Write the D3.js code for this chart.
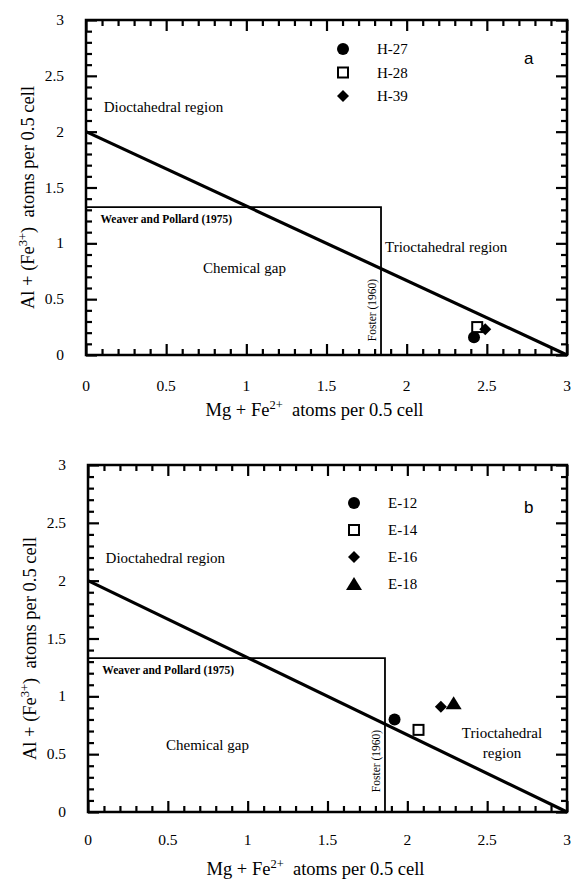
<!DOCTYPE html>
<html>
<head>
<meta charset="utf-8">
<script src="https://cdn.jsdelivr.net/npm/d3@7"></script>
</head>
<body style="margin:0">
<svg id="vis_canvas" width="572" height="880"></svg>
<script>
// tick values for both panels
var major_ticks = [0, 0.5, 1, 1.5, 2, 2.5, 3];
var minor_ticks = [0.1, 0.2, 0.3, 0.4, 0.6, 0.7, 0.8, 0.9, 1.1, 1.2, 1.3, 1.4,
    1.6, 1.7, 1.8, 1.9, 2.1, 2.2, 2.3, 2.4, 2.6, 2.7, 2.8, 2.9];
var tick_labels = ["0", "0.5", "1", "1.5", "2", "2.5", "3"];

// boundary line from dioctahedral to trioctahedral
var boundary_line = [[0, 2], [3, 0]];
// chemical gap box (Weaver and Pollard 1975 / Foster 1960)
var gap_box_a = [[0, 1.325], [1.84, 1.325], [1.84, 0]];
var gap_box_b = [[0, 1.33], [1.86, 1.33], [1.86, 0]];

// samples panel a
var samples_a = ["H-27", "H-28", "H-39"];
var symbols_a = ["circle", "square", "diamond"];
var mg_a = [2.42, 2.44, 2.49];
var al_a = [0.16, 0.25, 0.23];

// samples panel b
var samples_b = ["E-12", "E-14", "E-16", "E-18"];
var symbols_b = ["circle", "square", "diamond", "triangle"];
var mg_b = [1.92, 2.07, 2.21, 2.29];
var al_b = [0.80, 0.71, 0.91, 0.94];

var SERIF = "Liberation Serif";
var INK = "#000";

function drawPanel(svg, opt) {
    var x = d3.scaleLinear().domain([0, 3]).range([opt.left, opt.right]);
    var y = d3.scaleLinear().domain([0, 3]).range([opt.bottom, opt.top]);
    var g = svg.append("g");

    // inward ticks on all four sides, from d3 axes
    function ticks(axis, tx, ty, vals, len) {
        var a = g.append("g").attr("transform", "translate(" + tx + "," + ty + ")")
            .call(axis.tickValues(vals).tickSize(-len).tickFormat(""));
        a.select(".domain").remove();
        a.selectAll(".tick line").attr("stroke", INK).attr("stroke-width", 2.2);
    }
    [[major_ticks, 11], [minor_ticks, 6]].forEach(function(t) {
        ticks(d3.axisBottom(x), 0, opt.bottom, t[0], t[1]);
        ticks(d3.axisTop(x), 0, opt.top, t[0], t[1]);
        ticks(d3.axisLeft(y), opt.left, 0, t[0], t[1]);
        ticks(d3.axisRight(y), opt.right, 0, t[0], t[1]);
    });

    g.append("rect").attr("x", opt.left).attr("y", opt.top)
        .attr("width", opt.right - opt.left).attr("height", opt.bottom - opt.top)
        .attr("fill", "none").attr("stroke", INK).attr("stroke-width", 2.5);

    // tick labels
    major_ticks.forEach(function(v, i) {
        g.append("text").attr("x", x(v)).attr("y", opt.xlabY).attr("text-anchor", "middle")
            .style("font-family", SERIF).attr("font-size", 15.5).attr("fill", INK).text(tick_labels[i]);
        g.append("text").attr("x", opt.left - 22).attr("y", y(v) + 5).attr("text-anchor", "end")
            .style("font-family", SERIF).attr("font-size", 15.5).attr("fill", INK).text(tick_labels[i]);
    });

    var line = d3.line().x(function(d) { return x(d[0]); }).y(function(d) { return y(d[1]); });

    g.append("path").attr("d", line(opt.box)).attr("fill", "none")
        .attr("stroke", INK).attr("stroke-width", 1.8);
    g.append("path").attr("d", line(boundary_line)).attr("fill", "none")
        .attr("stroke", INK).attr("stroke-width", 3.2);

    // region labels
    g.append("text").attr("x", x(0.11)).attr("y", y(opt.dioY)).style("font-family", SERIF)
        .attr("font-size", 15).attr("fill", INK).text("Dioctahedral region");
    g.append("text").attr("x", x(0.09)).attr("y", y(opt.box[0][1]) + 16).style("font-family", SERIF)
        .attr("font-size", 11.5).attr("font-weight", "bold").attr("fill", INK).text("Weaver and Pollard (1975)");
    g.append("text").attr("x", opt.gapX).attr("y", opt.gapY).style("font-family", SERIF)
        .attr("font-size", 15).attr("fill", INK).text("Chemical gap");
    g.append("text").attr("transform", "translate(" + (x(opt.box[1][0]) - 5) + "," + opt.fosterY + ") rotate(-90)")
        .attr("text-anchor", "middle").style("font-family", SERIF).attr("font-size", 11.5).attr("fill", INK).text("Foster (1960)");
    opt.triLines.forEach(function(t) {
        g.append("text").attr("x", t[0]).attr("y", t[1]).attr("text-anchor", t[3] || "start")
            .style("font-family", SERIF).attr("font-size", 15).attr("fill", INK).text(t[2]);
    });

    g.append("text").attr("x", opt.letterX).attr("y", opt.letterY).attr("font-size", 17)
        .style("font-family", "Liberation Sans").attr("fill", INK).text(opt.letter);

    // axis titles
    var xt = g.append("text").attr("x", (opt.left + opt.right) / 2 - 12).attr("y", opt.xtitleY)
        .attr("text-anchor", "middle").style("font-family", SERIF).attr("font-size", 18.5).attr("fill", INK);
    xt.append("tspan").text("Mg + Fe");
    xt.append("tspan").attr("dy", -7).attr("font-size", 12.5).text("2+");
    xt.append("tspan").attr("dy", 7).text("\u00a0 atoms per 0.5 cell");

    var yt = g.append("text").attr("transform", "translate(" + opt.ytitleX + "," + ((opt.top + opt.bottom) / 2 + 10) + ") rotate(-90)")
        .attr("text-anchor", "middle").style("font-family", SERIF).attr("font-size", 18.5).attr("fill", INK);
    yt.append("tspan").text("Al + (Fe");
    yt.append("tspan").attr("dy", -7).attr("font-size", 12.5).text("3+");
    yt.append("tspan").attr("dy", 7).text(")\u00a0 atoms per 0.5 cell");

    // markers
    function marker(sel, type, cx, cy) {
        if (type == "circle") {
            sel.append("circle").attr("cx", cx).attr("cy", cy).attr("r", 6).attr("fill", INK);
        } else if (type == "square") {
            sel.append("rect").attr("x", cx - 5).attr("y", cy - 5).attr("width", 10).attr("height", 10)
                .attr("fill", "#fff").attr("stroke", INK).attr("stroke-width", 2);
        } else if (type == "diamond") {
            sel.append("path").attr("d", "M" + cx + "," + (cy - 6) + "L" + (cx + 6) + "," + cy + "L" + cx + "," + (cy + 6) + "L" + (cx - 6) + "," + cy + "Z")
                .attr("fill", INK);
        } else if (type == "triangle") {
            sel.append("path").attr("d", "M" + cx + "," + (cy - 7) + "L" + (cx + 8) + "," + (cy + 6) + "L" + (cx - 8) + "," + (cy + 6) + "Z")
                .attr("fill", INK);
        }
    }

    opt.names.forEach(function(name, i) {
        var ly = opt.legY + i * opt.legStep;
        marker(g, opt.symbols[i], opt.legX, ly);
        g.append("text").attr("x", opt.legX + 34).attr("y", ly + 5).style("font-family", SERIF)
            .attr("font-size", 15).attr("fill", INK).text(name);
    });
    opt.names.forEach(function(name, i) {
        marker(g, opt.symbols[i], x(opt.mg[i]), y(opt.al[i]));
    });
}

var svg = d3.select("#vis_canvas");
svg.append("rect").attr("width", 572).attr("height", 880).attr("fill", "#fff");

drawPanel(svg, {
    left: 86, right: 567, top: 20, bottom: 355,
    xlabY: 391, xtitleY: 416, ytitleX: 34,
    box: gap_box_a, dioY: 2.18,
    gapX: 203, gapY: 273, fosterY: 310,
    triLines: [[385, 252, "Trioctahedral region"]],
    letter: "a", letterX: 524, letterY: 64,
    names: samples_a, symbols: symbols_a, mg: mg_a, al: al_a,
    legX: 343, legY: 49, legStep: 23.5
});

drawPanel(svg, {
    left: 88, right: 567, top: 465, bottom: 812,
    xlabY: 845, xtitleY: 875, ytitleX: 36,
    box: gap_box_b, dioY: 2.15,
    gapX: 166, gapY: 750, fosterY: 761,
    triLines: [[502, 738, "Trioctahedral", "middle"], [502, 758, "region", "middle"]],
    letter: "b", letterX: 524, letterY: 513,
    names: samples_b, symbols: symbols_b, mg: mg_b, al: al_b,
    legX: 354, legY: 503, legStep: 27
});
</script>
</body>
</html>
